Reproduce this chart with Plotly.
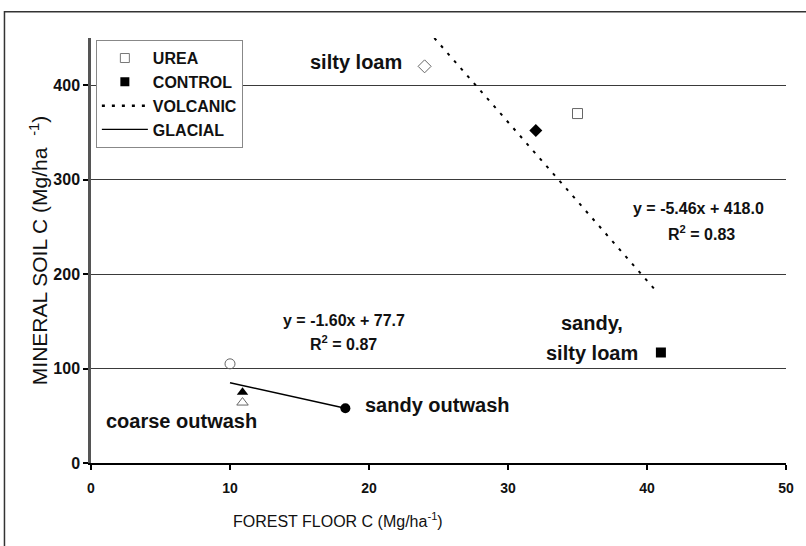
import plotly.graph_objects as go

# ── Data ──
urea_x = [24.0, 35.0, 10.0, 10.9]
urea_y = [420, 370, 105, 64]
urea_symbols = ["diamond-open", "square-open", "circle-open", "triangle-up-open"]

control_x = [32.0, 41.0, 18.3, 10.9]
control_y = [352, 117, 58, 75]
control_symbols = ["diamond", "square", "circle", "triangle-up"]

volcanic_fit_x = [24.7, 40.6]
volcanic_fit_y = [450, 183]

glacial_fit_x = [10.0, 18.3]
glacial_fit_y = [85, 58]

x_ticks = [0, 10, 20, 30, 40, 50]
y_ticks = [0, 100, 200, 300, 400]

FONT = "Liberation Sans, Arial, sans-serif"

fig = go.Figure()

# ── Regression lines ──
fig.add_trace(go.Scatter(
    x=volcanic_fit_x, y=volcanic_fit_y, mode="lines",
    line=dict(color="black", width=2, dash="3px,7px"),
    showlegend=False, hoverinfo="skip",
))
fig.add_trace(go.Scatter(
    x=glacial_fit_x, y=glacial_fit_y, mode="lines",
    line=dict(color="black", width=1.5),
    showlegend=False, hoverinfo="skip",
))

# ── Points ──
fig.add_trace(go.Scatter(
    x=urea_x, y=urea_y, mode="markers",
    marker=dict(symbol=urea_symbols, size=10, color="#666666",
                line=dict(color="#666666", width=1)),
    showlegend=False,
))
fig.add_trace(go.Scatter(
    x=control_x, y=control_y, mode="markers",
    marker=dict(symbol=control_symbols, size=10, color="black"),
    showlegend=False,
))

# ── Legend entries ──
fig.add_trace(go.Scatter(
    x=[None], y=[None], mode="markers", name="UREA",
    marker=dict(symbol="square-open", size=9, color="#777777"),
))
fig.add_trace(go.Scatter(
    x=[None], y=[None], mode="markers", name="CONTROL",
    marker=dict(symbol="square", size=9, color="black"),
))
fig.add_trace(go.Scatter(
    x=[None], y=[None], mode="lines", name="VOLCANIC",
    line=dict(color="black", width=2.5, dash="3px,7px"),
))
fig.add_trace(go.Scatter(
    x=[None], y=[None], mode="lines", name="GLACIAL",
    line=dict(color="black", width=1.2),
))

# ── Labels ──
labels = [
    (19.1, 425, "silty loam", 20, "center"),
    (36.05, 148, "sandy,", 20, "center"),
    (36.05, 117, "silty loam", 20, "center"),
    (6.5, 45, "coarse outwash", 20, "center"),
    (19.6, 61, "sandy outwash", 20, "left"),
    (43.7, 270, "y = -5.46x + 418.0", 16, "center"),
    (43.9, 244, "R<sup>2</sup> = 0.83", 16, "center"),
    (18.2, 151, "y = -1.60x + 77.7", 16, "center"),
    (18.2, 127, "R<sup>2</sup> = 0.87", 16, "center"),
]
for lx, ly, txt, size, anchor in labels:
    fig.add_annotation(
        x=lx, y=ly, xref="x", yref="y", text=f"<b>{txt}</b>",
        showarrow=False, xanchor=anchor,
        font=dict(family=FONT, size=size, color="#111111"),
    )

fig.add_annotation(
    x=0.356, y=-0.163, xref="paper", yref="paper",
    text="FOREST FLOOR C (Mg/ha<sup>-1</sup>)", showarrow=False,
    font=dict(family=FONT, size=16, color="#111111"),
)

# ── Outer frame (left and top edges visible) ──
fig.add_shape(
    type="rect", xref="paper", yref="paper",
    x0=-0.1245, x1=1.05, y0=-0.3, y1=1.062,
    line=dict(color="#333333", width=1.5),
)

fig.update_layout(
    width=806, height=546,
    margin=dict(l=91, r=16, t=38, b=83),
    paper_bgcolor="white", plot_bgcolor="white",
    font=dict(family=FONT, color="#111111"),
    xaxis=dict(
        range=[0, 50], tickvals=x_ticks, showgrid=False, zeroline=False,
        showline=True, linecolor="black", linewidth=2,
        ticks="outside", ticklen=5, tickwidth=1.5, tickcolor="black",
        tickfont=dict(family=FONT, size=14, weight="bold"),
        ticklabelstandoff=6,
    ),
    yaxis=dict(
        range=[0, 450], tickvals=y_ticks, showgrid=True,
        gridcolor="#3a3a3a", gridwidth=1, zeroline=False,
        showline=True, linecolor="#555555", linewidth=2.5,
        ticks="outside", ticklen=5, tickwidth=1.5, tickcolor="black",
        tickfont=dict(family=FONT, size=16, weight="bold"),
        title=dict(text="MINERAL SOIL C (Mg/ha  <sup>-1</sup>)",
                   font=dict(family=FONT, size=21), standoff=0),
    ),
    legend=dict(
        x=0.007, y=0.995, xanchor="left", yanchor="top",
        bgcolor="white", bordercolor="#888888", borderwidth=1,
        font=dict(family=FONT, size=16, weight="bold"),
        itemwidth=46, tracegroupgap=0, entrywidth=115,
    ),
)

fig.write_html(
    "out.html",
    config={"displayModeBar": False},
    post_script="document.body.style.margin='0';",
)
